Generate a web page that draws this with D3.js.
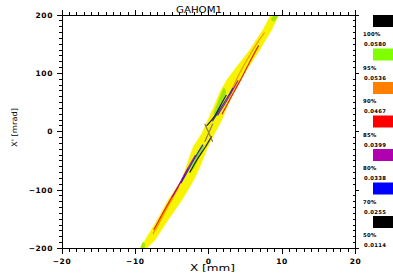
<!DOCTYPE html>
<html><head><meta charset="utf-8">
<script src="https://cdn.jsdelivr.net/npm/d3@7"></script>
<style>html,body{margin:0;padding:0;background:#fff;overflow:hidden}</style>
</head><body>
<svg id="c" width="393" height="280"></svg>
<script>
const title = "GAHOM1";
const xLabel = "X [mm]";
const yLabel = "X' [mrad]";
const xDomain = [-20, 20];
const yDomain = [-200, 200];
const xTicks = [-20, -10, 0, 10, 20];
const yTicks = [-200, -100, 0, 100, 200];
const xMinor = d3.range(-20, 21, 1);
const yMinor = d3.range(-200, 201, 10);

// outline of the yellow density band [x (mm), x' (mrad)]
const bandLeft = [[-10.04,-216.3],[-9.36,-199.2],[-8.68,-185.4],[-7.04,-151.1],[-5.54,-116.8],[-3.64,-82.4],[-3.09,-60.1],[-2.14,-25.8],[-1.05,-5.2],[-0.23,17.2],[0.86,48.1],[1.54,68.7],[2.49,89.3],[3.72,109.9],[5.63,140.8],[7.40,175.1],[8.49,200.9],[9.17,218.1]];
const bandRight = [[10.26,218.1],[9.58,200.9],[8.62,175.1],[6.99,140.8],[5.22,106.5],[4.40,89.3],[2.90,54.9],[1.81,20.6],[0.72,-5.2],[-0.10,-25.8],[-1.19,-60.1],[-2.00,-82.4],[-3.64,-116.8],[-5.54,-151.1],[-7.31,-185.4],[-8.41,-199.2],[-9.09,-216.3]];

// green patches
const greenUpper = [[0.72,29.2],[1.13,48.1],[1.68,65.2],[2.08,75.5],[2.36,68.7],[1.81,48.1],[1.27,27.5]];
const greenLower = [[-0.78,-22.3],[-1.46,-34.3],[-2.14,-53.2],[-2.55,-68.7],[-2.14,-65.2],[-1.32,-44.6],[-0.64,-27.5]];
const greenTop = [[8.49,192.3],[9.03,200.9],[9.44,200.9],[8.90,188.9]];
const greenBottom = [[-9.22,-199.2],[-8.95,-188.9],[-8.68,-192.3],[-8.81,-199.2]];

// contour lines
const blackUpper = [[-0.3,10],[0.7,25],[1.6,45],[2.4,63]];
const blueUpper = [[0.5,18],[1.5,38],[2.6,60],[3.3,75]];
const purpleUpper = [[1.2,28],[2.3,50],[3.3,72],[4.0,88]];
const redUpper = [[1.8,30],[3.0,58],[4.3,88],[5.6,120],[6.8,148]];
const orangeUpper = [[2.8,62],[4.0,95],[5.3,125],[6.6,152],[7.6,170]];
const blackLower = [[0.4,-8],[-0.5,-27],[-1.6,-48],[-2.6,-70]];
const blueLower = [[-0.8,-22],[-1.9,-45],[-2.9,-68],[-3.8,-88]];
const purpleLower = [[-1.8,-40],[-3.0,-66],[-4.0,-90],[-5.0,-112]];
const redLower = [[-2.8,-62],[-4.0,-90],[-5.3,-118],[-6.5,-145],[-7.5,-168]];
const orangeLower = [[-4.1,-95],[-5.3,-122],[-6.5,-150],[-7.6,-175]];

const centroid = [0, 0];

const legendPct = ["100%","95%","90%","85%","80%","70%","50%"];
const legendVal = ["0.0580","0.0536","0.0467","0.0399","0.0338","0.0255","0.0114"];
const legendColors = ["#000000","#80ff00","#ff7f00","#ff0000","#b000b0","#0000ff","#000000"];

const svg = d3.select("#c");
const L = 62, R = 355.5, T = 15, B = 248.5;
const x = d3.scaleLinear().domain(xDomain).range([L, R]);
const y = d3.scaleLinear().domain(yDomain).range([B, T]);
const font = "DejaVu Sans, sans-serif";

svg.append("defs").append("clipPath").attr("id","clip")
  .append("rect").attr("x",L).attr("y",T).attr("width",R-L).attr("height",B-T);

const plot = svg.append("g").attr("clip-path","url(#clip)");
const area = d3.line().x(d=>x(d[0])).y(d=>y(d[1])).curve(d3.curveLinearClosed);
const blob = d3.line().x(d=>x(d[0])).y(d=>y(d[1])).curve(d3.curveCatmullRomClosed);
const line = d3.line().x(d=>x(d[0])).y(d=>y(d[1])).curve(d3.curveCatmullRom);

const band = bandLeft.concat(bandRight);
plot.append("path").attr("d", area(band)).attr("fill","#f7f3a0").attr("stroke","#fbfad8").attr("stroke-width",1.5).attr("stroke-linejoin","round");
plot.append("path").attr("d", area(band)).attr("fill","#f8f400").attr("transform","translate(0,0)");

[greenUpper, greenLower, greenTop, greenBottom].forEach(g => {
  plot.append("path").attr("d", blob(g)).attr("fill","#8ee010").attr("opacity",0.85);
});

const lines = [
  [orangeUpper,"#ff7f00"],[redUpper,"#e00000"],[purpleUpper,"#a000a0"],[blueUpper,"#1010e0"],[blackUpper,"#000000"],
  [orangeLower,"#ff7f00"],[redLower,"#e00000"],[purpleLower,"#a000a0"],[blueLower,"#1010e0"],[blackLower,"#000000"]
];
lines.forEach(([pts,c]) => {
  plot.append("path").attr("d", line(pts)).attr("fill","none").attr("stroke",c).attr("stroke-width",1.2).attr("opacity",0.85);
});

// centroid cross
const cx = x(centroid[0]), cy = y(centroid[1]) + 1;
svg.append("path").attr("d",`M${cx-4},${cy-9}L${cx+4},${cy+9}M${cx+4},${cy-9}L${cx-4},${cy+9}`)
  .attr("stroke","#8a7a6a").attr("stroke-width",1.2).attr("fill","none");

// frame
const ax = svg.append("g").attr("stroke","#000").attr("stroke-width",1).attr("shape-rendering","crispEdges");
ax.append("line").attr("x1",L).attr("x2",R).attr("y1",B).attr("y2",B);
ax.append("line").attr("x1",L).attr("x2",R).attr("y1",T).attr("y2",T);
ax.append("line").attr("x1",L).attr("x2",L).attr("y1",T).attr("y2",B);
ax.append("line").attr("x1",R).attr("x2",R).attr("y1",T).attr("y2",B);

xMinor.forEach(v => {
  const major = xTicks.includes(v); const len = major ? 5 : 3;
  ax.append("line").attr("x1",x(v)).attr("x2",x(v)).attr("y1",B).attr("y2",B+len);
  ax.append("line").attr("x1",x(v)).attr("x2",x(v)).attr("y1",T).attr("y2",T-len);
});
yMinor.forEach(v => {
  const major = yTicks.includes(v); const len = major ? 5 : 3;
  ax.append("line").attr("x1",L).attr("x2",L-len).attr("y1",y(v)).attr("y2",y(v));
  if (major) ax.append("line").attr("x1",R).attr("x2",R+3).attr("y1",y(v)).attr("y2",y(v));
  else ax.append("line").attr("x1",R).attr("x2",R-2.5).attr("y1",y(v)).attr("y2",y(v));
});

const fmt = v => v < 0 ? "\u2212" + Math.abs(v) : String(v);
svg.append("g").selectAll("text").data(xTicks).join("text")
  .attr("x", d => x(d)).attr("y", 263.5).attr("text-anchor","middle")
  .attr("font-family",font).attr("font-size",7.5).attr("font-weight","bold").attr("letter-spacing",0.6).text(fmt);
svg.append("g").selectAll("text").data(yTicks).join("text")
  .attr("x", 53).attr("y", d => y(d) + 2.7).attr("text-anchor","end")
  .attr("font-family",font).attr("font-size",7.5).attr("font-weight","bold").attr("letter-spacing",0.6).text(fmt);

svg.append("text").attr("x",176).attr("y",12.5).attr("font-family",font).attr("font-size",8)
  .attr("textLength",46).attr("lengthAdjust","spacingAndGlyphs").text(title);
svg.append("text").attr("x",190).attr("y",271).attr("font-family",font).attr("font-size",8)
  .attr("textLength",45).attr("lengthAdjust","spacingAndGlyphs").text(xLabel);
svg.append("text").attr("transform","translate(17,147) rotate(-90)").attr("x",0).attr("y",0)
  .attr("font-family",font).attr("font-size",7.5)
  .attr("textLength",39).attr("lengthAdjust","spacingAndGlyphs").text(yLabel);

// legend
const lg = svg.append("g");
const ly = i => 15 + i * 33.5;
lg.selectAll("rect").data(legendColors).join("rect")
  .attr("x",373).attr("y",(d,i)=>ly(i)).attr("width",22).attr("height",12).attr("fill",d=>d);
lg.selectAll("text.p").data(legendPct).join("text").attr("class","p")
  .attr("x",363).attr("y",(d,i)=>ly(i)+21).attr("font-family",font).attr("font-size",5.3).attr("font-weight","bold").attr("letter-spacing",0.3).text(d=>d);
lg.selectAll("text.v").data(legendVal).join("text").attr("class","v")
  .attr("x",364).attr("y",(d,i)=>ly(i)+31).attr("font-family",font).attr("font-size",5.3).attr("font-weight","bold").attr("letter-spacing",0.3).text(d=>d);
</script>
</body></html>
